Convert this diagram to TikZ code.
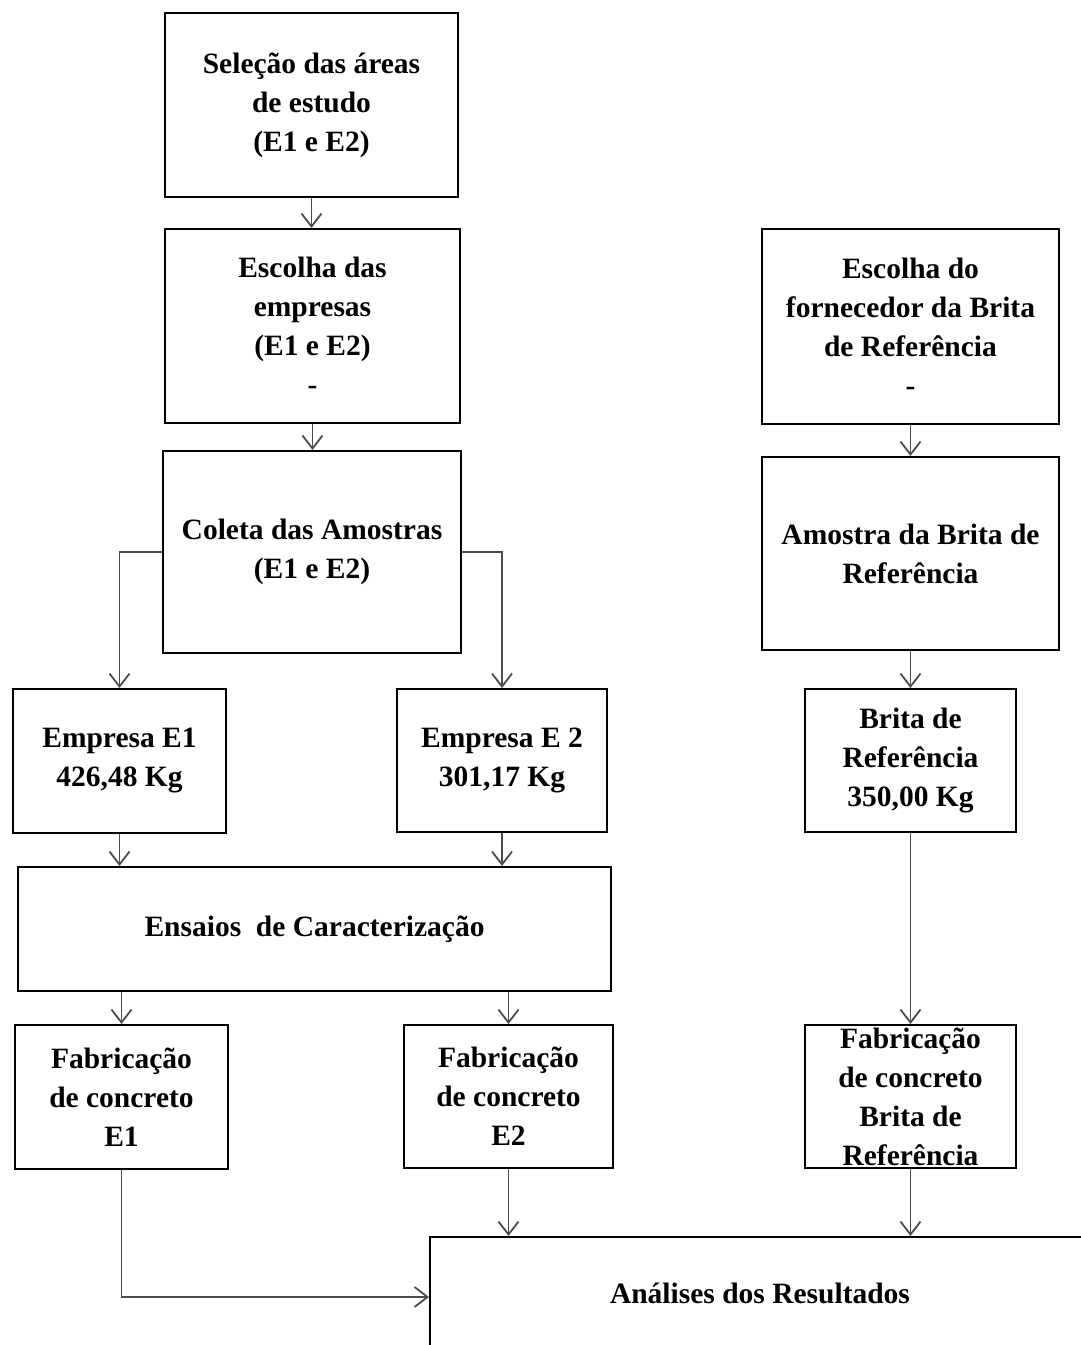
\documentclass[tikz,border=0pt]{standalone}
\usepackage{fontspec}
\setmainfont{Liberation Serif}
\usetikzlibrary{arrows.meta}

\tikzset{
	blk/.style = {draw, line width = 2pt, align = center, inner sep = 0pt, font = \bfseries\fontsize{29.5}{39}\selectfont},
	arr/.style = {draw = black!70, line width = 1.8pt, -{Straight Barb[length = 13pt, width = 20pt, line width = 1.8pt]}}
}

\begin{document}
\begin{tikzpicture}[x = 1pt, y = -1pt]
	\useasboundingbox (0,0) rectangle (1081,1345);
	\clip (0,0) rectangle (1081,1345);
	% left column
	\node[blk, minimum width = 293pt, minimum height = 184pt] (sel) at (311.5,105) {Seleção das áreas\\de estudo\\(E1 e E2)};
	\node[blk, minimum width = 295pt, minimum height = 194pt] (emp) at (312.5,326) {Escolha das\\empresas\\(E1 e E2)\\-};
	\node[blk, minimum width = 298pt, minimum height = 202pt] (col) at (312,552) {Coleta das Amostras\\(E1 e E2)};
	\node[blk, minimum width = 213pt, minimum height = 144pt] (e1) at (119.5,761) {Empresa E1\\426,48 Kg};
	\node[blk, minimum width = 210pt, minimum height = 143pt] (e2) at (502,760.5) {Empresa E 2\\301,17 Kg};
	\node[blk, minimum width = 593pt, minimum height = 124pt] (ens) at (314.5,929) {Ensaios\ \ de Caracterização};
	\node[blk, minimum width = 213pt, minimum height = 144pt] (fab1) at (121.5,1097) {Fabricação\\de concreto\\E1};
	\node[blk, minimum width = 209pt, minimum height = 143pt] (fab2) at (508.5,1096.5) {Fabricação\\de concreto\\E2};
	% right column
	\node[blk, minimum width = 297pt, minimum height = 195pt] (forn) at (910.5,326.5) {Escolha do\\fornecedor da Brita\\de Referência\\-};
	\node[blk, minimum width = 297pt, minimum height = 193pt] (amo) at (910.5,553.5) {Amostra da Brita de\\Referência};
	\node[blk, minimum width = 211pt, minimum height = 143pt] (brita) at (910.5,760.5) {Brita de\\Referência\\350,00 Kg};
	\node[blk, minimum width = 211pt, minimum height = 143pt] (fabb) at (910.5,1096.5) {Fabricação\\de concreto\\Brita de\\Referência};
	% results
	\node[blk, minimum width = 660pt, minimum height = 112pt] (res) at (760,1293) {Análises dos Resultados};

	\draw[arr] (sel.south) -- (sel.south |- emp.north);
	\draw[arr] (emp.south) -- (emp.south |- col.north);
	\draw[arr] (col.west) -| (e1.north);
	\draw[arr] (col.east) -| (e2.north);
	\draw[arr] (e1.south) -- (e1.south |- ens.north);
	\draw[arr] (e2.south) -- (e2.south |- ens.north);
	\draw[arr] (fab1.north |- ens.south) -- (fab1.north);
	\draw[arr] (fab2.north |- ens.south) -- (fab2.north);
	\draw[arr] (fab1.south) |- ([yshift = -4pt]res.west);
	\draw[arr] (fab2.south) -- (fab2.south |- res.north);
	\draw[arr] (forn.south) -- (amo.north);
	\draw[arr] (amo.south) -- (brita.north);
	\draw[arr] (brita.south) -- (fabb.north);
	\draw[arr] (fabb.south) -- (fabb.south |- res.north);
\end{tikzpicture}
\end{document}
